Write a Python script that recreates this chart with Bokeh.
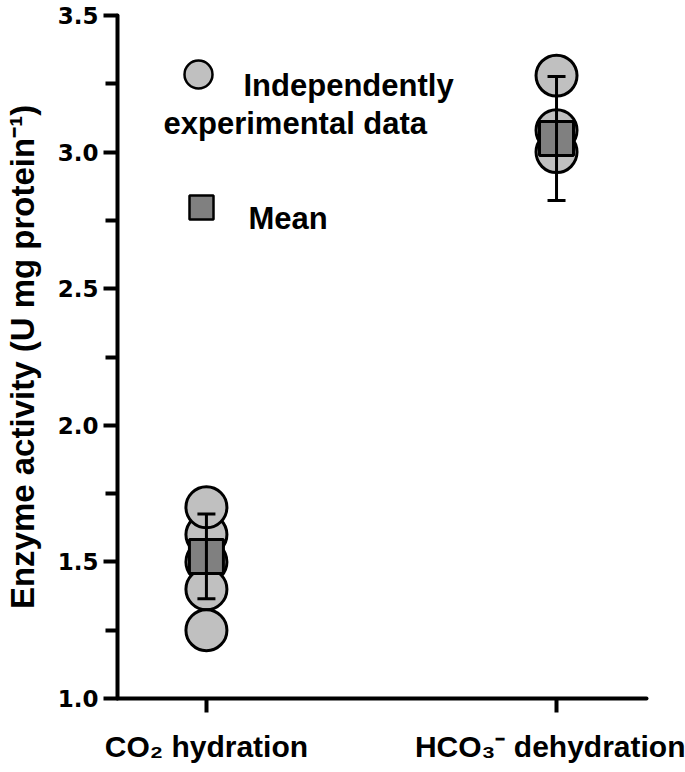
from bokeh.plotting import figure
from bokeh.models import Range1d, FixedTicker, Label, ColumnDataSource, PrintfTickFormatter
from bokeh.embed import file_html
from bokeh.resources import INLINE

# ---------------- data ----------------
cat_pos = [1, 2]
cat_labels = ["CO₂ hydration", "HCO₃⁻ dehydration"]
co2_values = [1.50, 1.60, 1.40, 1.70, 1.25]      # CO2 hydration, individual experiments
hco3_values = [3.00, 3.08, 3.28]                  # HCO3- dehydration, individual experiments
mean_values = [1.52, 3.05]
sd_values = [0.155, 0.227]
y_ticks = [1.0, 1.5, 2.0, 2.5, 3.0, 3.5]
y_minor = [(a + b) / 2 for a, b in zip(y_ticks[:-1], y_ticks[1:])]
y_title = "Enzyme activity (U mg protein⁻¹)"
legend_labels = ["Independently", "experimental data", "Mean"]

# ---------------- layout constants ----------------
FW, FH = 529, 683
FONT = "Liberation Sans"

p = figure(frame_width=FW, frame_height=FH,
           x_range=Range1d(0.746, 2.257), y_range=Range1d(1.0, 3.5),
           output_backend="svg", toolbar_location=None,
           min_border_left=117, min_border_right=39, min_border_top=15, min_border_bottom=74,
           background_fill_color="white", border_fill_color="white", outline_line_color=None)
p.extra_x_ranges = {"px": Range1d(0, FW)}
p.extra_y_ranges = {"px": Range1d(FH, 0)}
p.grid.visible = False

# individual points
pts_x = [cat_pos[0]] * len(co2_values) + [cat_pos[1]] * len(hco3_values)
pts_y = co2_values + hco3_values
p.scatter(pts_x, pts_y, marker="circle", size=41, fill_color="#c0c0c0",
          line_color="black", line_width=3)

# mean squares
src = ColumnDataSource(dict(x=cat_pos, m=mean_values,
                            lo=[m - s for m, s in zip(mean_values, sd_values)],
                            hi=[m + s for m, s in zip(mean_values, sd_values)]))
p.scatter("x", "m", source=src, marker="square", size=34, fill_color="#808080",
          line_color="black", line_width=3)
# error bars
p.segment(x0="x", y0="lo", x1="x", y1="hi", source=src, line_color="black", line_width=3)
p.scatter("x", "lo", source=src, marker="dash", size=18, line_color="black", line_width=3)
p.scatter("x", "hi", source=src, marker="dash", size=18, line_color="black", line_width=3)

# axes
for ax in (p.xaxis[0], p.yaxis[0]):
    ax.axis_line_width = 4
    ax.axis_line_color = "black"
    ax.major_tick_line_width = 4
    ax.minor_tick_line_width = 4
    ax.major_tick_in = 0
    ax.minor_tick_in = 0
    ax.major_tick_out = 14
    ax.minor_tick_out = 12
    ax.axis_line_cap = "round"

p.yaxis.ticker = FixedTicker(ticks=y_ticks, minor_ticks=y_minor)
p.yaxis.formatter = PrintfTickFormatter(format="%.1f")
p.yaxis.major_label_text_font = "DejaVu Sans"
p.yaxis.major_label_text_font_style = "bold"
p.yaxis.major_label_text_font_size = "23px"
p.yaxis.major_label_text_color = "black"
p.yaxis.major_label_standoff = 5
p.yaxis.axis_label = y_title
p.yaxis.axis_label_text_font = FONT
p.yaxis.axis_label_text_font_style = "bold"
p.yaxis.axis_label_text_font_size = "33px"
p.yaxis.axis_label_text_color = "black"
p.yaxis.axis_label_standoff = 14

p.xaxis.ticker = FixedTicker(ticks=cat_pos, minor_ticks=[])
p.xaxis.major_label_overrides = {c: t for c, t in zip(cat_pos, cat_labels)}
p.xaxis.major_label_text_font = FONT
p.xaxis.major_label_text_font_style = "bold"
p.xaxis.major_label_text_font_size = "30px"
p.xaxis.major_label_text_color = "black"
p.xaxis.major_label_standoff = 17

# legend (drawn in frame pixel coordinates)
p.scatter([81], [59], x_range_name="px", y_range_name="px", marker="circle", size=28,
          fill_color="#c0c0c0", line_color="black", line_width=2.5)
p.scatter([84], [192], x_range_name="px", y_range_name="px", marker="square", size=24,
          fill_color="#808080", line_color="black", line_width=2.5)
for txt, lx, ly in zip(legend_labels, [126, 46, 131], [70, 108, 203]):
    p.add_layout(Label(x=lx, y=ly, x_range_name="px", y_range_name="px", text=txt,
                       text_align="left", text_baseline="alphabetic", text_font=FONT,
                       text_font_style="bold", text_font_size="31px", text_color="black"))

open("out.html", "w").write(file_html(p, INLINE))
